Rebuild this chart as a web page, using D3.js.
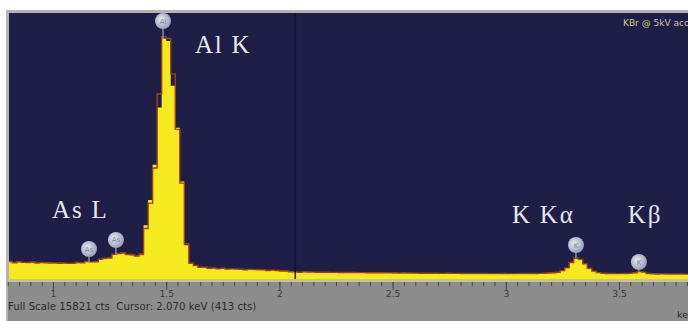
<!DOCTYPE html>
<html><head><meta charset="utf-8">
<script src="https://cdn.jsdelivr.net/npm/d3@7"></script>
<style>html,body{margin:0;padding:0;background:#fff;overflow:hidden}</style>
</head><body><svg id="c" width="688" height="321"></svg>
<script>
// ---- data ----
const channelStart = 0.80;   // keV of first channel
const channelWidth = 0.02;   // keV per channel
const fillCounts = [
  1010, 980, 1020, 970, 1000, 980, 960, 990, 950, 970,
  940, 960, 930, 950, 920, 960, 990, 1030, 1010, 1050,
  1150, 1200, 1260, 1450, 1550, 1520, 1480, 1420, 1380, 1500,
  3200, 4700, 6800, 10200, 14300, 14150, 11500, 9000, 5800, 2000,
  900, 780, 720, 690, 650, 640, 620, 630, 600, 590,
  600, 570, 560, 575, 540, 550, 530, 520, 535, 500,
  490, 470, 440, 413, 420, 430, 410, 420, 400, 410,
  395, 405, 390, 400, 385, 395, 380, 390, 375, 385,
  370, 380, 365, 375, 360, 370, 355, 365, 350, 360,
  345, 355, 340, 350, 335, 345, 340, 330, 345, 330,
  340, 325, 335, 320, 330, 320, 330, 315, 325, 320,
  330, 315, 325, 320, 330, 325, 335, 330, 340, 350,
  365, 390, 480, 650, 950, 1250, 1190, 890, 650, 480,
  390, 350, 335, 320, 325, 315, 320, 330, 360, 450,
  420, 340, 310, 305, 300, 310, 295, 300, 290, 295, 290
];
const outlineCounts = [
  1040, 960, 1030, 990, 980, 1010, 950, 980, 970, 950,
  960, 940, 950, 930, 940, 980, 970, 1040, 1020, 1030,
  1180, 1230, 1240, 1470, 1520, 1560, 1460, 1440, 1360, 1450,
  3000, 4500, 6600, 11000, 14400, 14300, 12200, 8900, 5700, 2100,
  950, 800, 700, 700, 640, 650, 610, 640, 590, 600,
  585, 580, 550, 570, 555, 540, 540, 510, 530, 505,
  480, 480, 430, 425, 405, 425, 420, 410, 405, 400,
  400, 395, 395, 390, 390, 385, 385, 380, 380, 375,
  375, 370, 370, 365, 365, 360, 360, 355, 355, 350,
  350, 345, 345, 340, 340, 335, 335, 340, 335, 335,
  330, 330, 325, 325, 325, 325, 320, 320, 320, 325,
  320, 320, 320, 325, 325, 330, 330, 335, 345, 355,
  370, 400, 500, 660, 980, 1230, 1170, 900, 640, 470,
  380, 345, 330, 325, 320, 320, 325, 335, 370, 440,
  410, 330, 315, 300, 305, 300, 300, 295, 295, 290, 290
];
const markerElements = ["Al", "As", "As", "K", "K"];
const markerEnergies = [1.486, 1.159, 1.278, 3.310, 3.588];
const markerHeights  = [15345, 1784, 2320, 2022, 1011];
const labelTexts    = ["Al K", "As L", "K K\u03B1", "K\u03B2"];
const labelEnergies = [1.627, 0.996, 3.027, 3.539];
const labelHeights  = [13442, 3628, 3331, 3331];
const tickValues = [1, 1.5, 2, 2.5, 3, 3.5];
const tickLabels = ["1", "1.5", "2", "2.5", "3", "3.5"];
const fullScale = 15821;
const cursorKeV = 2.070;
const cursorCts = 413;
const sampleName = "KBr @ 5kV acc";

// ---- layout ----
const svg = d3.select("#c");
const W = 688, H = 321;
const plot = {left: 9, top: 13, right: 688, bottom: 279};
const x = d3.scaleLinear().domain([1, 3.5]).range([53, 619]);
const y = d3.scaleLinear().domain([0, fullScale]).range([plot.bottom, plot.top]);
const sans = "DejaVu Sans, Verdana, sans-serif";

svg.append("rect").attr("width", W).attr("height", H).attr("fill", "#ffffff");
svg.append("rect").attr("x", 6).attr("y", 10).attr("width", W - 6).attr("height", H - 10).attr("fill", "#b4b4b4");
svg.append("rect").attr("x", plot.left - 1).attr("y", plot.bottom).attr("width", W).attr("height", H - plot.bottom).attr("fill", "#8c8c8c");
svg.append("rect").attr("x", plot.left).attr("y", plot.top).attr("width", plot.right - plot.left).attr("height", plot.bottom - plot.top).attr("fill", "#1f1e47");

const defs = svg.append("defs");
defs.append("clipPath").attr("id", "clip").append("rect")
  .attr("x", plot.left).attr("y", plot.top).attr("width", plot.right - plot.left).attr("height", plot.bottom - plot.top);
const rg = defs.append("radialGradient").attr("id", "mk").attr("cx", "40%").attr("cy", "40%").attr("r", "60%");
rg.append("stop").attr("offset", "0%").attr("stop-color", "#e8ebf2");
rg.append("stop").attr("offset", "100%").attr("stop-color", "#97a0b6");

const toPts = counts => {
  const pts = counts.map((c, i) => ({e: channelStart + i * channelWidth, c}));
  pts.push({e: channelStart + counts.length * channelWidth, c: counts[counts.length - 1]});
  return pts;
};
const fillPts = toPts(fillCounts);
const linePts = toPts(outlineCounts);

const g = svg.append("g").attr("clip-path", "url(#clip)");
g.append("path").datum(fillPts)
  .attr("d", d3.area().curve(d3.curveStepAfter).x(d => x(d.e)).y0(y(0)).y1(d => y(d.c)))
  .attr("fill", "#f4ea1d");
g.append("path").datum(linePts)
  .attr("d", d3.line().curve(d3.curveStepAfter).x(d => x(d.e)).y(d => y(d.c)))
  .attr("fill", "none").attr("stroke", "#a2400f").attr("stroke-width", 1.4);

// cursor
g.append("line").attr("x1", x(cursorKeV)).attr("x2", x(cursorKeV))
  .attr("y1", plot.top).attr("y2", plot.bottom)
  .attr("stroke", "#121230").attr("stroke-width", 1.6).attr("opacity", 0.85);

// element markers
const countAt = e => fillCounts[Math.max(0, Math.min(fillCounts.length - 1, Math.floor((e - channelStart) / channelWidth + 1e-9)))];
const mk = g.selectAll("g.mk").data(markerElements.map((el, i) => ({el, e: markerEnergies[i], h: markerHeights[i]})))
  .enter().append("g").attr("class", "mk");
mk.append("line").attr("x1", d => x(d.e)).attr("x2", d => x(d.e))
  .attr("y1", d => y(d.h)).attr("y2", d => y(countAt(d.e)))
  .attr("stroke", "#b8bfcf").attr("stroke-width", 1);
mk.append("circle").attr("cx", d => x(d.e)).attr("cy", d => y(d.h)).attr("r", 8)
  .attr("fill", "url(#mk)");
mk.append("text").attr("x", d => x(d.e)).attr("y", d => y(d.h) + 2.5)
  .attr("text-anchor", "middle").attr("font-family", sans)
  .attr("font-size", 7).attr("fill", "#7a8296").text(d => d.el);

// labels
svg.selectAll("text.lb").data(labelTexts.map((t, i) => ({t, e: labelEnergies[i], h: labelHeights[i]})))
  .enter().append("text").attr("class", "lb")
  .attr("x", d => x(d.e)).attr("y", d => y(d.h))
  .attr("font-family", "Liberation Serif, Times New Roman, serif")
  .attr("font-size", 25).attr("letter-spacing", 1.8).attr("fill", "#e6e6ee").text(d => d.t);

// sample name top right
svg.append("text").attr("x", 623).attr("y", 26)
  .attr("font-family", sans).attr("font-size", 9)
  .attr("fill", "#cfcb78").text(sampleName);

// axis strip
svg.append("rect").attr("x", plot.left - 1).attr("y", plot.bottom).attr("width", W).attr("height", 3).attr("fill", "#c4c0ae");
const minorA = svg.append("g").attr("transform", `translate(0,${plot.bottom + 3})`)
  .call(d3.axisBottom(x).tickValues(d3.range(0.8, 3.86, 0.05)).tickSize(4).tickFormat(""));
const major = svg.append("g").attr("transform", `translate(0,${plot.bottom + 3})`)
  .call(d3.axisBottom(x).tickValues(tickValues).tickSize(8).tickPadding(0).tickFormat((d, i) => tickLabels[i]));
[minorA, major].forEach(a => {
  a.select(".domain").remove();
  a.selectAll("line").attr("stroke", "#4a4a4a").attr("stroke-width", 1);
  a.selectAll("text").attr("fill", "#3c3c3c").attr("font-family", sans).attr("font-size", 9.2);
});

svg.append("text").attr("x", 8).attr("y", 310).style("white-space", "pre")
  .attr("font-family", sans).attr("font-size", 10.2).attr("fill", "#2e2e2e")
  .text(`Full Scale ${fullScale} cts  Cursor: ${cursorKeV.toFixed(3)} keV (${cursorCts} cts)`);
svg.append("text").attr("x", 677).attr("y", 318)
  .attr("font-family", sans).attr("font-size", 9.5).attr("fill", "#2e2e2e")
  .text("keV");
</script></body></html>
